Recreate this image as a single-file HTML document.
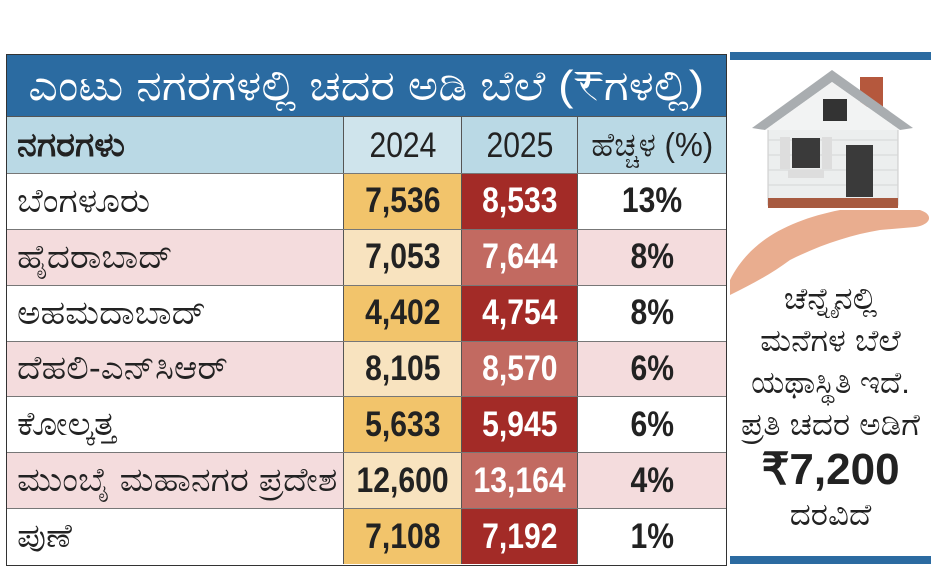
<!DOCTYPE html>
<html><head><meta charset="utf-8">
<style>
html,body{margin:0;padding:0;background:#fff;width:945px;height:585px;overflow:hidden;font-family:"Liberation Sans","Noto Sans CJK SC",sans-serif}
#tbl{position:absolute;left:6px;top:54px;width:721px;height:512px;border:1.5px solid #333;box-sizing:border-box;background:#fff}
#title{position:absolute;left:0;top:0;width:100%;height:61px;background:#2b6ba1;color:#fff;font-size:42px;line-height:61px;text-align:center;white-space:nowrap;overflow:hidden}
#title span{display:inline-block;transform:scaleX(1.1)}
.row{position:absolute;left:0;width:100%;}
.cell{position:absolute;top:0;height:100%;box-sizing:border-box;display:flex;align-items:center;justify-content:center;border-left:1px solid #555;font-weight:bold;font-size:35px;color:#222}
.cell span{display:inline-block;transform:scaleX(0.86)}
.name{justify-content:flex-start;padding-left:10px;border-left:none;font-weight:normal;font-size:33px;white-space:nowrap}
.name span{transform-origin:left center;transform:scaleX(1.08)}
#side{position:absolute;left:730px;top:52px;width:201px;height:512px}
.sl{display:block;white-space:nowrap}
</style></head><body>
<div id="tbl">
  <div id="title"><span>ಎಂಟು ನಗರಗಳಲ್ಲಿ ಚದರ ಅಡಿ ಬೆಲೆ (₹ಗಳಲ್ಲಿ)</span></div>
  <div class="row" style="top:61px;height:57px;background:#bad9e5;border-top:1px solid #555">
    <div class="cell name" style="left:0;width:336px;font-weight:bold"><span>ನಗರಗಳು</span></div>
    <div class="cell" style="left:336px;width:118px;font-weight:normal;background:#cfe4ec"><span>2024</span></div>
    <div class="cell" style="left:454px;width:116px;font-weight:normal"><span>2025</span></div>
    <div class="cell" style="left:570px;width:149px;font-weight:normal;font-size:33px"><span style="transform:scaleX(0.95)">ಹೆಚ್ಚಳ (%)</span></div>
  </div>
  <div id="rows"></div>
</div>
<div id="side">
  <div style="position:absolute;left:0;top:0;width:201px;height:8px;background:#2b6ba1"></div>
  <svg width="201" height="240" style="position:absolute;left:0;top:8px">
    <rect x="130" y="17" width="23" height="30" fill="#b5583d"/>
    <rect x="38" y="65" width="130" height="80" fill="#eceeee" stroke="#c8c8c8"/>
    <g stroke="#d5d5d5">
      <line x1="38" y1="80" x2="168" y2="80"/><line x1="38" y1="95" x2="168" y2="95"/><line x1="38" y1="110" x2="168" y2="110"/><line x1="38" y1="125" x2="168" y2="125"/>
    </g>
    <polygon points="102,10 22,68 35,70 102,22 170,70 183,68" fill="#a9adb0"/>
    <polygon points="102,22 35,70 170,70" fill="#f2f3f3"/>
    <rect x="93" y="39" width="24" height="22" fill="#333"/>
    <rect x="62" y="78" width="28" height="30" fill="#3a3a3a"/>
    <rect x="50" y="77" width="10" height="32" fill="#ddd"/><rect x="92" y="77" width="10" height="32" fill="#ddd"/>
    <rect x="58" y="110" width="36" height="8" fill="#ddd"/>
    <rect x="116" y="85" width="27" height="52" fill="#3a3a3a"/>
    <rect x="38" y="138" width="130" height="10" fill="#a75a40"/>
    <path d="M0,220 C20,180 60,160 110,150 L190,150 C205,155 200,165 185,167 L150,170 C120,175 90,185 60,200 C40,215 20,225 0,235 Z" fill="#e9ad8f"/>
  </svg>
  <div style="position:absolute;left:0;top:226px;width:201px;text-align:center;font-size:31px;line-height:42px;color:#222">
    <span class="sl" style="transform:scaleX(1.05)">ಚೆನ್ನೈನಲ್ಲಿ</span><span class="sl" style="transform:scaleX(1.05)">ಮನೆಗಳ ಬೆಲೆ</span><span class="sl" style="transform:scaleX(1.0)">ಯಥಾಸ್ಥಿತಿ ಇದೆ.</span><span class="sl" style="transform:scaleX(1.05)">ಪ್ರತಿ ಚದರ ಅಡಿಗೆ</span>
    <b class="sl" style="font-size:44px;line-height:48px">₹7,200</b><span class="sl" style="transform:scaleX(1.05)">ದರವಿದೆ</span></div>
  <div style="position:absolute;left:0;top:504px;width:201px;height:8px;background:#2b6ba1"></div>
</div>
<script>
const cities=["ಬೆಂಗಳೂರು","ಹೈದರಾಬಾದ್","ಅಹಮದಾಬಾದ್","ದೆಹಲಿ-ಎನ್‌ಸಿಆರ್","ಕೋಲ್ಕತ್ತ","ಮುಂಬೈ ಮಹಾನಗರ ಪ್ರದೇಶ","ಪುಣೆ"];
const v2024=["7,536","7,053","4,402","8,105","5,633","12,600","7,108"];
const v2025=["8,533","7,644","4,754","8,570","5,945","13,164","7,192"];
const change=["13%","8%","8%","6%","6%","4%","1%"];
const rows=document.getElementById('rows');
const rh=(512-3-118)/7;
for(let i=0;i<cities.length;i++){
  const odd=i%2===0;
  const r=document.createElement('div');
  r.className='row';
  r.style.top=(118+i*rh)+'px';r.style.height=rh+'px';
  r.style.background=odd?'#ffffff':'#f4dcdd';
  r.style.borderTop='1px solid #777';r.style.boxSizing='border-box';
  
  
  const mk=(l,w,txt,bg,col,cls,nm)=>{const c=document.createElement('div');c.className='cell'+(cls?' '+cls:'');c.style.left=l+'px';c.style.width=w+'px';if(bg)c.style.background=bg;if(col)c.style.color=col;
    const s=document.createElement('span');s.textContent=txt;c.appendChild(s);
    
    
    r.appendChild(c);};
  mk(0,336,cities[i],null,null,'name','city-name');
  mk(336,118,v2024[i],odd?'#f2c46b':'#f8e3bf',null,'','value-2024');
  mk(454,116,v2025[i],odd?'#a32b27':'#c26a61','#fff','','value-2025');
  mk(570,149,change[i],null,null,'','change-pct');
  rows.appendChild(r);
}
</script>
</body></html>
